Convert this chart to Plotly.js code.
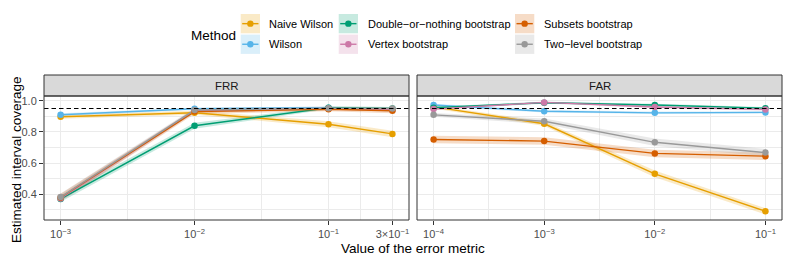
<!DOCTYPE html>
<html><head><meta charset="utf-8">
<script src="https://cdn.plot.ly/plotly-3.0.1.min.js"></script>
<style>html,body{margin:0;padding:0;background:#fff;} #chart{width:789px;height:263px;}</style>
</head><body><div id="chart"></div>
<script>
// ---------- data ----------
const methods = ["Naive Wilson", "Wilson", "Double\u2212or\u2212nothing bootstrap", "Vertex bootstrap", "Subsets bootstrap", "Two\u2212level bootstrap"];
const colors = ["#E69F00", "#56B4E9", "#009E73", "#CC79A7", "#D55E00", "#999999"];
const panels = ["FRR", "FAR"];

const frrX = [0.001, 0.01, 0.1, 0.3];
const farX = [0.0001, 0.001, 0.01, 0.1];
const frrTickText = ["10<sup>\u22123</sup>", "10<sup>\u22122</sup>", "10<sup>\u22121</sup>", "3\u00d710<sup>\u22121</sup>"];
const farTickText = ["10<sup>\u22124</sup>", "10<sup>\u22123</sup>", "10<sup>\u22122</sup>", "10<sup>\u22121</sup>"];
const yTickVals = [0.4, 0.6, 0.8, 1.0];
const yTickText = ["0.4", "0.6", "0.8", "1.0"];
const targetCoverage = 0.95;

// FRR panel: estimated coverage
const frrNaiveWilson = [0.897, 0.923, 0.849, 0.787];
const frrWilson      = [0.910, 0.948, 0.955, 0.940];
const frrDouble      = [0.370, 0.839, 0.955, 0.950];
const frrVertex      = [0.373, 0.935, 0.950, 0.942];
const frrSubsets     = [0.380, 0.930, 0.945, 0.935];
const frrTwoLevel    = [0.382, 0.940, 0.952, 0.950];
// FRR panel: interval half-widths (ribbons)
const frrNaiveWilsonHW = [0.013, 0.013, 0.019, 0.021];
const frrWilsonHW      = [0.009, 0.007, 0.007, 0.009];
const frrDoubleHW      = [0.020, 0.019, 0.010, 0.010];
const frrVertexHW      = [0.020, 0.013, 0.010, 0.012];
const frrSubsetsHW     = [0.023, 0.015, 0.013, 0.015];
const frrTwoLevelHW    = [0.023, 0.013, 0.010, 0.010];

// FAR panel: estimated coverage
const farNaiveWilson = [0.960, 0.852, 0.531, 0.291];
const farWilson      = [0.972, 0.932, 0.922, 0.925];
const farDouble      = [0.955, 0.987, 0.972, 0.952];
const farVertex      = [0.946, 0.989, 0.959, 0.944];
const farSubsets     = [0.751, 0.741, 0.662, 0.644];
const farTwoLevel    = [0.909, 0.868, 0.733, 0.667];
// FAR panel: interval half-widths (ribbons)
const farNaiveWilsonHW = [0.010, 0.015, 0.022, 0.020];
const farWilsonHW      = [0.009, 0.008, 0.008, 0.008];
const farDoubleHW      = [0.008, 0.006, 0.008, 0.008];
const farVertexHW      = [0.008, 0.006, 0.008, 0.008];
const farSubsetsHW     = [0.024, 0.024, 0.024, 0.024];
const farTwoLevelHW    = [0.012, 0.018, 0.024, 0.024];

// ---------- assembly ----------
const frrVals = [frrNaiveWilson, frrWilson, frrDouble, frrVertex, frrSubsets, frrTwoLevel];
const frrHW   = [frrNaiveWilsonHW, frrWilsonHW, frrDoubleHW, frrVertexHW, frrSubsetsHW, frrTwoLevelHW];
const farVals = [farNaiveWilson, farWilson, farDouble, farVertex, farSubsets, farTwoLevel];
const farHW   = [farNaiveWilsonHW, farWilsonHW, farDoubleHW, farVertexHW, farSubsetsHW, farTwoLevelHW];

function rgba(hex, a) {
  const n = parseInt(hex.slice(1), 16);
  return `rgba(${(n >> 16) & 255},${(n >> 8) & 255},${n & 255},${a})`;
}

const panelSpecs = [
  {x: frrX, vals: frrVals, hw: frrHW, xa: "x", ya: "y"},
  {x: farX, vals: farVals, hw: farHW, xa: "x2", ya: "y2"}
];

const traces = [];
// ribbons
panelSpecs.forEach(p => {
  p.vals.forEach((v, i) => {
    const lo = v.map((d, k) => d - p.hw[i][k]);
    const hi = v.map((d, k) => d + p.hw[i][k]);
    traces.push({x: p.x, y: lo, xaxis: p.xa, yaxis: p.ya, mode: "lines", line: {width: 0, color: colors[i]}, showlegend: false, hoverinfo: "skip"});
    traces.push({x: p.x, y: hi, xaxis: p.xa, yaxis: p.ya, mode: "lines", line: {width: 0, color: colors[i]}, fill: "tonexty", fillcolor: rgba(colors[i], 0.22), showlegend: false, hoverinfo: "skip"});
  });
});
// lines
panelSpecs.forEach(p => {
  p.vals.forEach((v, i) => {
    traces.push({x: p.x, y: v, xaxis: p.xa, yaxis: p.ya, mode: "lines", name: methods[i], line: {width: 1.4, color: colors[i]}, showlegend: false});
  });
});
// points
panelSpecs.forEach(p => {
  p.vals.forEach((v, i) => {
    traces.push({x: p.x, y: v, xaxis: p.xa, yaxis: p.ya, mode: "markers", name: methods[i], marker: {size: 6.5, color: colors[i]}, showlegend: false});
  });
});

// ---------- layout geometry ----------
const W = 789, H = 263;
const mL = 44, mR = 7, mT = 96, mB = 43;
const plotW = W - mL - mR, plotH = H - mT - mB;
const px2x = px => (px - mL) / plotW;
const py2y = py => (H - mB - py) / plotH;

const font = "Liberation Sans, Arial, Helvetica, sans-serif";
const gridCol = "#EBEBEB";
const borderCol = "#333333";

const shapes = [];
const annotations = [];

// panel borders, strips, reference lines
[["x", "y"], ["x2", "y2"]].forEach(([xa, ya], j) => {
  shapes.push({type: "rect", xref: xa + " domain", yref: ya + " domain", x0: 0, x1: 1, y0: 1, y1: 1 + 21 / plotH, fillcolor: "#D9D9D9", line: {color: borderCol, width: 1}, layer: "above"});
  annotations.push({xref: xa + " domain", yref: ya + " domain", x: 0.5, y: 1 + 10.5 / plotH, text: panels[j], showarrow: false, font: {family: font, size: 11.5, color: "#1A1A1A"}, xanchor: "center", yanchor: "middle"});
  shapes.push({type: "line", xref: xa + " domain", yref: ya, x0: 0, x1: 1, y0: targetCoverage, y1: targetCoverage, line: {color: "#000000", width: 1.1, dash: "4.5px,3px"}, layer: "above"});
  shapes.push({type: "rect", xref: xa + " domain", yref: ya + " domain", x0: 0, x1: 1, y0: 0, y1: 1, line: {color: borderCol, width: 1}, layer: "above"});
});

// axis titles
annotations.push({xref: "paper", yref: "paper", x: px2x(413), y: py2y(248.5), text: "Value of the error metric", showarrow: false, font: {family: font, size: 13.5, color: "#000"}, xanchor: "center", yanchor: "middle"});
annotations.push({xref: "paper", yref: "paper", x: px2x(16), y: py2y(160), text: "Estimated interval coverage", textangle: -90, showarrow: false, font: {family: font, size: 13.5, color: "#000"}, xanchor: "center", yanchor: "middle"});

// legend (custom, ggplot-style: column-wise fill)
annotations.push({xref: "paper", yref: "paper", x: px2x(189), y: py2y(35), text: "Method", showarrow: false, font: {family: font, size: 13.5, color: "#000"}, xanchor: "left", yanchor: "middle"});
const keyLeft = [240.7, 338.7, 515];
const textLeft = [267, 366, 542.3];
const keyTop = [14, 34.6];
const keySize = 19.3;
methods.forEach((m, i) => {
  const col = Math.floor(i / 2), row = i % 2;
  const x0 = keyLeft[col], y0 = keyTop[row];
  const cx = x0 + keySize / 2, cy = y0 + keySize / 2;
  shapes.push({type: "rect", xref: "paper", yref: "paper", x0: px2x(x0), x1: px2x(x0 + keySize), y0: py2y(y0), y1: py2y(y0 + keySize), fillcolor: rgba(colors[i], 0.22), line: {width: 0}});
  shapes.push({type: "line", xref: "paper", yref: "paper", x0: px2x(x0 + 1.5), x1: px2x(x0 + keySize - 1.5), y0: py2y(cy), y1: py2y(cy), line: {color: colors[i], width: 1.4}});
  shapes.push({type: "circle", xref: "paper", yref: "paper", x0: px2x(cx - 3.2), x1: px2x(cx + 3.2), y0: py2y(cy - 3.2), y1: py2y(cy + 3.2), fillcolor: colors[i], line: {width: 0}});
  annotations.push({xref: "paper", yref: "paper", x: px2x(textLeft[col]), y: py2y(cy), text: m, showarrow: false, font: {family: font, size: 11, color: "#000"}, xanchor: "left", yanchor: "middle"});
});

const tickFont = {family: font, size: 11, color: "#4D4D4D"};
const xCommon = {
  type: "log", showline: false, zeroline: false, showgrid: true, gridcolor: gridCol, gridwidth: 1.1,
  ticks: "outside", ticklen: 4, tickwidth: 1, tickcolor: borderCol, tickfont: tickFont, tickmode: "array"
};
const layout = {
  width: W, height: H,
  margin: {l: mL, r: mR, t: mT, b: mB, pad: 0},
  paper_bgcolor: "#FFFFFF", plot_bgcolor: "#FFFFFF",
  showlegend: false,
  font: {family: font, size: 11},
  xaxis: Object.assign({}, xCommon, {
    domain: [0, px2x(409)], range: [-3.124, -0.399], anchor: "y",
    tickvals: frrX, ticktext: frrTickText,
    minor: {tickvals: [Math.pow(10, -2.5), Math.pow(10, -1.5), Math.pow(10, -0.7615)], showgrid: true, gridcolor: gridCol, gridwidth: 0.55, ticks: ""}
  }),
  xaxis2: Object.assign({}, xCommon, {
    domain: [px2x(417), 1], range: [-4.15, -0.85], anchor: "y2",
    tickvals: farX, ticktext: farTickText,
    minor: {tickvals: [Math.pow(10, -3.5), Math.pow(10, -2.5), Math.pow(10, -1.5)], showgrid: true, gridcolor: gridCol, gridwidth: 0.55, ticks: ""}
  }),
  yaxis: {
    range: [0.235, 1.030], anchor: "x", showline: false, zeroline: false,
    showgrid: true, gridcolor: gridCol, gridwidth: 1.1,
    tickmode: "array", tickvals: yTickVals, ticktext: yTickText,
    ticks: "outside", ticklen: 4, tickwidth: 1, tickcolor: borderCol, tickfont: tickFont,
    minor: {tickvals: [0.3, 0.5, 0.7, 0.9], showgrid: true, gridcolor: gridCol, gridwidth: 0.55, ticks: ""}
  },
  yaxis2: {
    range: [0.235, 1.030], anchor: "x2", matches: "y", showline: false, zeroline: false,
    showgrid: true, gridcolor: gridCol, gridwidth: 1.1,
    tickmode: "array", tickvals: yTickVals, showticklabels: false, ticks: "",
    minor: {tickvals: [0.3, 0.5, 0.7, 0.9], showgrid: true, gridcolor: gridCol, gridwidth: 0.55, ticks: ""}
  },
  shapes: shapes,
  annotations: annotations
};

Plotly.newPlot("chart", traces, layout, {displayModeBar: false});
</script>
</body></html>
